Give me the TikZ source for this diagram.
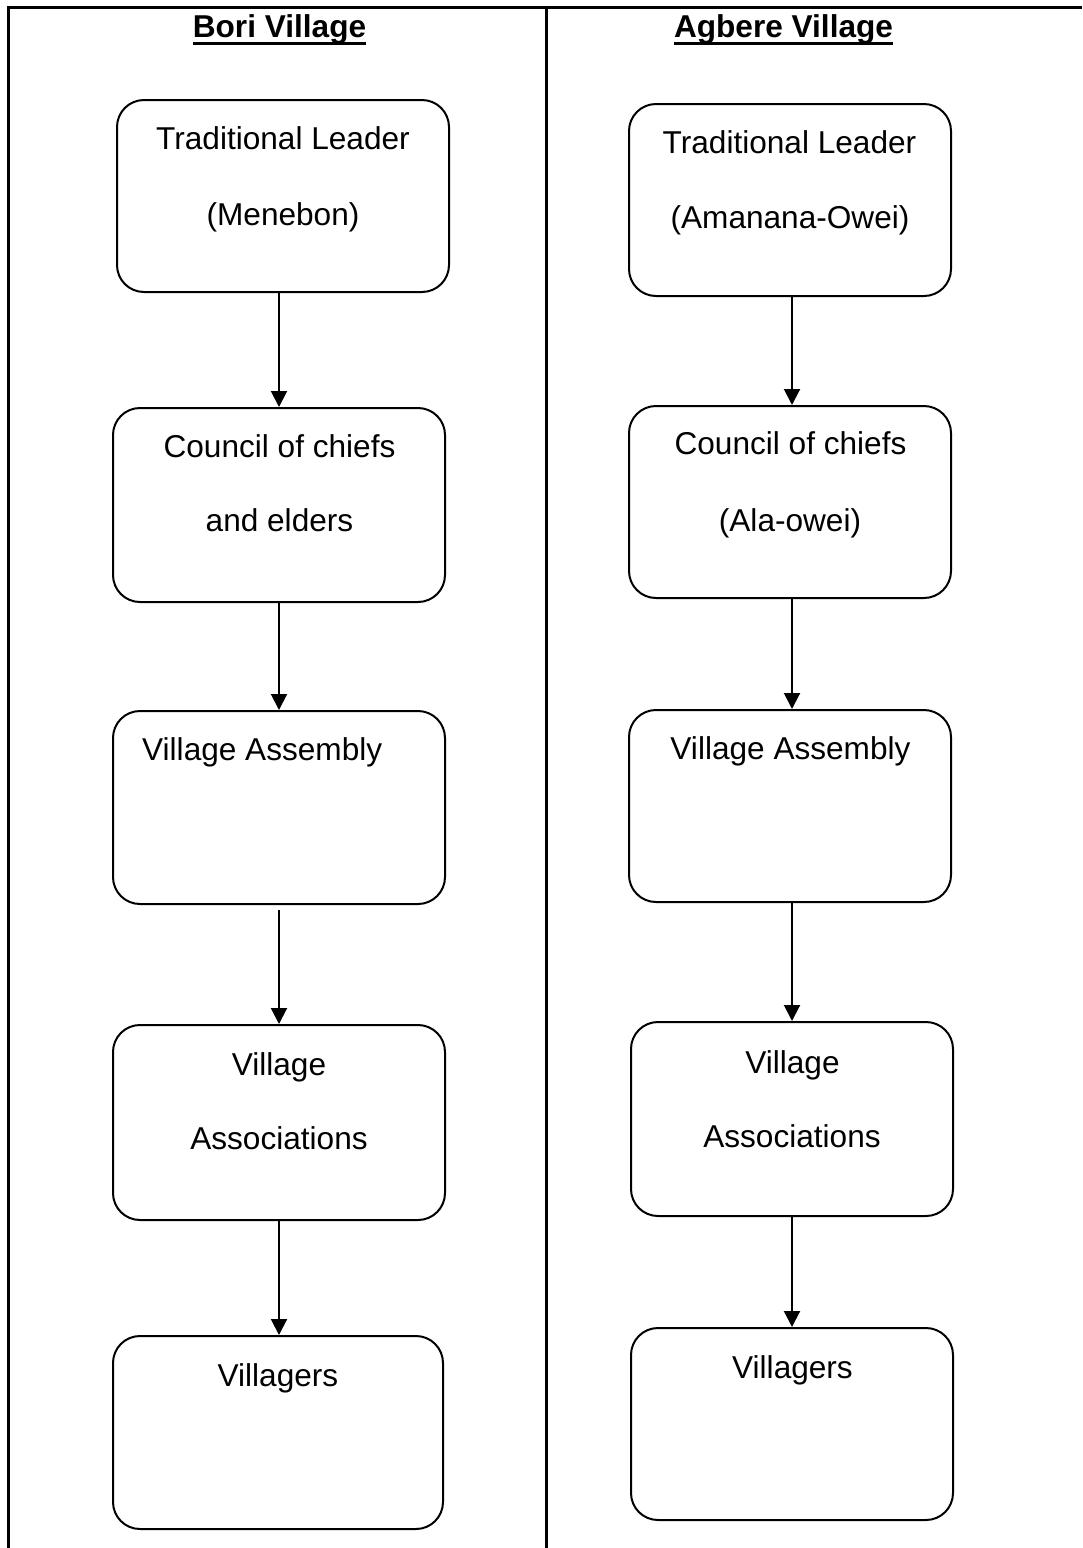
\documentclass[tikz,border=0pt]{standalone}
\usepackage{fontspec}
\setmainfont{Liberation Sans}
\usetikzlibrary{arrows.meta,calc}
\begin{document}
\begin{tikzpicture}[x=1pt,y=-1pt,
  box/.style={draw, line width=2pt, rounded corners=27pt, inner sep=0pt},
  lbl/.style={anchor=base, inner sep=0pt, font=\fontsize{31.6}{38}\selectfont},
  ttl/.style={anchor=base, inner sep=0pt, font=\fontsize{31.6}{38}\selectfont\bfseries},
  arr/.style={line width=2pt, -{Triangle[length=16pt,width=16pt]}},
  frame/.style={line width=3pt}]
\useasboundingbox (0,0) rectangle (1082,1548);
% table frame
\coordinate (ftl) at (8.5,7.5);
\coordinate (ftr) at (1082,7.5);
\coordinate (fbl) at (8.5,1548);
\coordinate (fdt) at (546,6);
\coordinate (fdb) at (546,1548);
\draw[frame] (ftr) -- (ftl) -- (fbl);
\draw[frame] (fdt) -- (fdb);
% titles
\node[ttl] (tb) at (279.5,37) {Bori Village};
\node[ttl] (ta) at (783.5,37) {Agbere Village};
\draw[frame] ($(tb.base west)+(0,6)$) -- ($(tb.base east)+(0,6)$);
\draw[frame] ($(ta.base west)+(0,6)$) -- ($(ta.base east)+(0,6)$);
% left boxes
\node[box, minimum width=332pt, minimum height=192pt] (bl1) at (283,196) {};
\node[box, minimum width=332pt, minimum height=194pt] (bl2) at (279,505) {};
\node[box, minimum width=332pt, minimum height=193pt] (bl3) at (279,807.5) {};
\node[box, minimum width=332pt, minimum height=195pt] (bl4) at (279,1122.5) {};
\node[box, minimum width=330pt, minimum height=193pt] (bl5) at (278,1432.5) {};
% right boxes
\node[box, minimum width=322pt, minimum height=192pt] (br1) at (790,200) {};
\node[box, minimum width=322pt, minimum height=192pt] (br2) at (790,502) {};
\node[box, minimum width=322pt, minimum height=192pt] (br3) at (790,806) {};
\node[box, minimum width=322pt, minimum height=194pt] (br4) at (792,1119) {};
\node[box, minimum width=322pt, minimum height=192pt] (br5) at (792,1424) {};
% left labels
\node[lbl] (l1a) at (283,149) {Traditional Leader};
\node[lbl] (l1b) at (283,225) {(Menebon)};
\node[lbl] (l2a) at (279.5,457) {Council of chiefs};
\node[lbl] (l2b) at (279.5,531) {and elders};
\node[lbl, anchor=base west] (l3a) at (142,760) {Village Assembly};
\node[lbl] (l4a) at (279,1075) {Village};
\node[lbl] (l4b) at (279,1149) {Associations};
\node[lbl] (l5a) at (278,1386) {Villagers};
% right labels
\node[lbl] (r1a) at (789.5,153) {Traditional Leader};
\node[lbl] (r1b) at (790,228) {(Amanana-Owei)};
\node[lbl] (r2a) at (790.5,454) {Council of chiefs};
\node[lbl] (r2b) at (790,531) {(Ala-owei)};
\node[lbl] (r3a) at (790.5,759) {Village Assembly};
\node[lbl] (r4a) at (792.5,1073) {Village};
\node[lbl] (r4b) at (792,1147) {Associations};
\node[lbl] (r5a) at (792.5,1378) {Villagers};
% left arrows
\draw[arr] (bl1.south -| bl2.north) -- (bl2.north);
\draw[arr] (bl2.south) -- (bl3.north);
\draw[arr] ($(bl3.south)+(0,5)$) -- (bl4.north);
\draw[arr] (bl4.south) -- (bl5.north -| bl4.south);
% right arrows
\draw[arr] (br1.south -| br4.north) -- (br2.north -| br4.north);
\draw[arr] (br2.south -| br4.north) -- (br3.north -| br4.north);
\draw[arr] (br3.south -| br4.north) -- (br4.north);
\draw[arr] (br4.south) -- (br5.north);
\end{tikzpicture}
\end{document}
